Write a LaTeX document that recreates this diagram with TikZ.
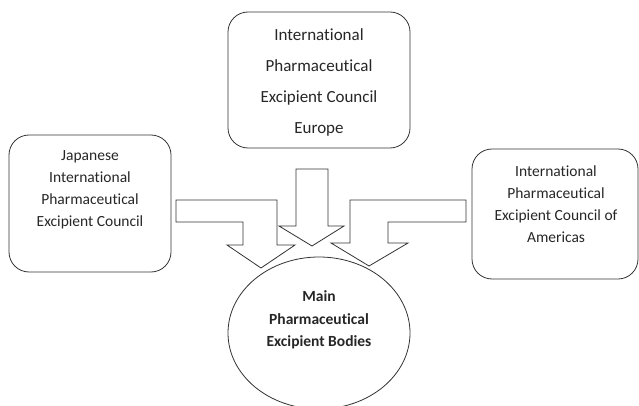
\documentclass[tikz,border=0pt]{standalone}
\usepackage{fontspec}
\setmainfont{Carlito}[RawFeature={-liga;-clig;-calt;-dlig}]
\usetikzlibrary{shapes.geometric}
\begin{document}
\begin{tikzpicture}[x=1pt,y=-1pt,
  line width=0.8pt,
  box/.style={draw=black!80, rounded corners=20pt},
  lbl/.style={align=center, inner sep=0pt, text=black!85},
  blockarrow/.style={draw=black!80, fill=white, line join=miter}]
\useasboundingbox (0,0) rectangle (639,406);
% boxes
\draw[box] (228,12) rectangle (410,148);
\draw[box] (9,135) rectangle (171,272);
\draw[box] (472,149) rectangle (638,279);
\node[draw=black!80, ellipse, minimum width=182pt, minimum height=152pt, inner sep=0pt] (main) at (319,333) {};
% labels
\node[lbl, font=\fontsize{17}{31}\selectfont] (eu) at (319,82) {International\\Pharmaceutical\\Excipient Council\\Europe};
\node[lbl, font=\fontsize{15.5}{22}\selectfont] (jp) at (90,190) {Japanese\\International\\Pharmaceutical\\Excipient Council};
\node[lbl, font=\fontsize{15.5}{22}\selectfont] (am) at (556,204) {International\\Pharmaceutical\\Excipient Council of\\Americas};
\node[lbl, font=\fontsize{15.5}{22.5}\selectfont\bfseries] (mb) at (319,320) {Main\\Pharmaceutical\\Excipient Bodies};
% block arrows
\draw[blockarrow] (296,169) -- (328,169) -- (328,226) -- (344,226) -- (312,246) -- (279,226) -- (296,226) -- cycle;
\draw[blockarrow] (176,200) -- (277,200) -- (277,245) -- (295,245) -- (261,268) -- (227,245) -- (243,245) -- (243,222) -- (176,222) -- cycle;
\draw[blockarrow] (466,200) -- (350,200) -- (350,243) -- (331,243) -- (369,266) -- (408,243) -- (388,243) -- (388,222) -- (466,222) -- cycle;
\end{tikzpicture}
\end{document}
